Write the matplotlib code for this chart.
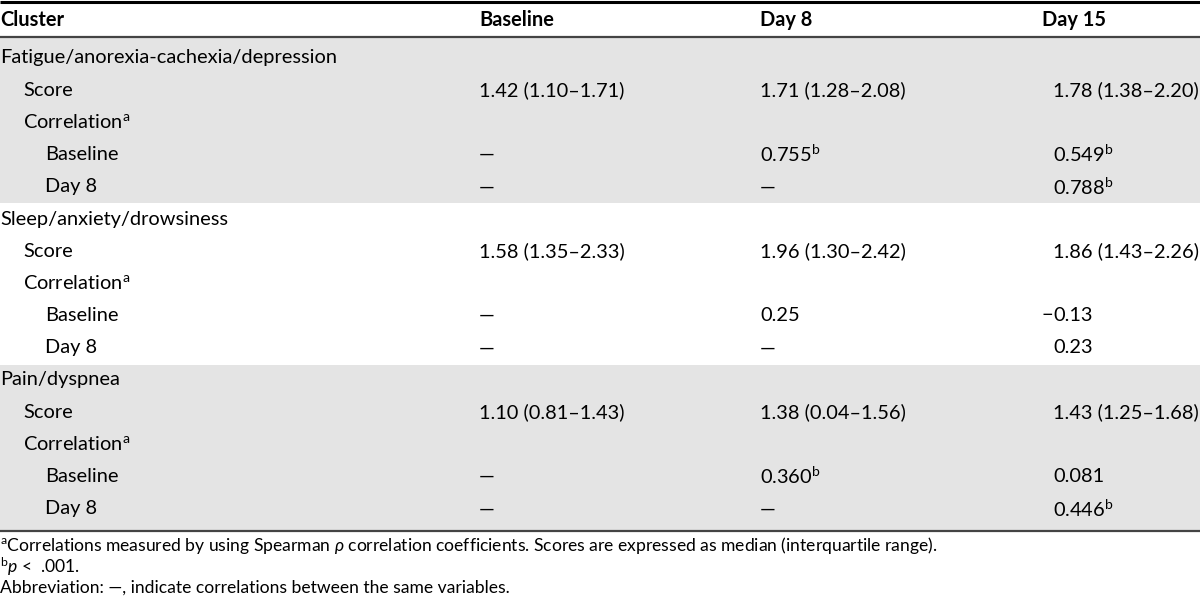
import matplotlib
matplotlib.use("Agg")
import matplotlib.pyplot as plt
from matplotlib.patches import Rectangle

plt.rcParams['font.family'] = ['Lato', 'DejaVu Sans']
plt.rcParams['mathtext.fontset'] = 'custom'
plt.rcParams['mathtext.rm'] = 'Lato'
plt.rcParams['mathtext.it'] = 'Lato:italic'
plt.rcParams['mathtext.bf'] = 'Lato:bold'

headers = ["Cluster", "Baseline", "Day 8", "Day 15"]
clusters = ["Fatigue/anorexia-cachexia/depression", "Sleep/anxiety/drowsiness", "Pain/dyspnea"]
score_baseline = ["1.42 (1.10–1.71)", "1.58 (1.35–2.33)", "1.10 (0.81–1.43)"]
score_day8 = ["1.71 (1.28–2.08)", "1.96 (1.30–2.42)", "1.38 (0.04–1.56)"]
score_day15 = ["1.78 (1.38–2.20)", "1.86 (1.43–2.26)", "1.43 (1.25–1.68)"]
corr_base_day8 = ["0.755", "0.25", "0.360"]
corr_base_day8_sig = [True, False, True]
corr_base_day15 = ["0.549", "−0.13", "0.081"]
corr_base_day15_sig = [True, False, False]
corr_day8_day15 = ["0.788", "0.23", "0.446"]
corr_day8_day15_sig = [True, False, True]
footnotes = [
    r"$^{\mathrm{a}}$Correlations measured by using Spearman $\mathit{\rho}$ correlation coefficients. Scores are expressed as median (interquartile range).",
    r"$^{\mathrm{b}}$$\mathit{p}$ <  .001.",
    "Abbreviation: —, indicate correlations between the same variables.",
]

fig = plt.figure(figsize=(12, 6), dpi=100)
ax = fig.add_axes([0, 0, 1, 1])
ax.set_xlim(0, 1200)
ax.set_ylim(600, 0)
ax.axis('off')

FS = 14.4
col_x = [0, 479, 760, 1053]
indent1, indent2 = 23, 45
row_h = 32.2
first_row = 58
band_color = "#e4e4e4"


def val(x, y, s, sig=False):
    if s.startswith("−"):
        ax.text(x, y, "−", ha='right', va='center', fontsize=FS)
        s = s[1:]
    if sig:
        s = s + r"$^{\mathrm{b}}$"
    ax.text(x, y, s, ha='left', va='center', fontsize=FS)


# header
ax.plot([0, 1200], [1.5, 1.5], color='black', lw=2.2, solid_capstyle='butt')
for i, h in enumerate(headers):
    hx = col_x[i] if i < 3 else 1042
    ax.text(hx, 20, h, ha='left', va='center', fontsize=FS, fontweight='bold')

band_edges = [38, 202.5, 364.5, 530]
for g in range(3):
    top, bot = band_edges[g], band_edges[g + 1]
    if g != 1:
        ax.add_patch(Rectangle((0, top), 1200, bot - top, color=band_color, lw=0, zorder=0))
    base = first_row + g * 5 * row_h
    ys = [base + k * row_h for k in range(5)]
    ax.text(0, ys[0], clusters[g], ha='left', va='center', fontsize=FS)
    ax.text(indent1, ys[1], "Score", ha='left', va='center', fontsize=FS)
    val(col_x[1], ys[1], score_baseline[g])
    val(col_x[2], ys[1], score_day8[g])
    val(col_x[3], ys[1], score_day15[g])
    ax.text(indent1, ys[2], r"Correlation$^{\mathrm{a}}$", ha='left', va='center', fontsize=FS)
    ax.text(indent2, ys[3], "Baseline", ha='left', va='center', fontsize=FS)
    val(col_x[1], ys[3], "—")
    val(col_x[2], ys[3], corr_base_day8[g], corr_base_day8_sig[g])
    val(col_x[3], ys[3], corr_base_day15[g], corr_base_day15_sig[g])
    ax.text(indent2, ys[4], "Day 8", ha='left', va='center', fontsize=FS)
    val(col_x[1], ys[4], "—")
    val(col_x[2], ys[4], "—")
    val(col_x[3], ys[4], corr_day8_day15[g], corr_day8_day15_sig[g])

ax.plot([0, 1200], [37, 37], color='#444444', lw=1.6, solid_capstyle='butt')
ax.plot([0, 1200], [531, 531], color='#444444', lw=1.6, solid_capstyle='butt')

for i, f in enumerate(footnotes):
    ax.text(0, 546 + i * 21, f, ha='left', va='center', fontsize=12.6)

fig.savefig("out.png", dpi=100)
